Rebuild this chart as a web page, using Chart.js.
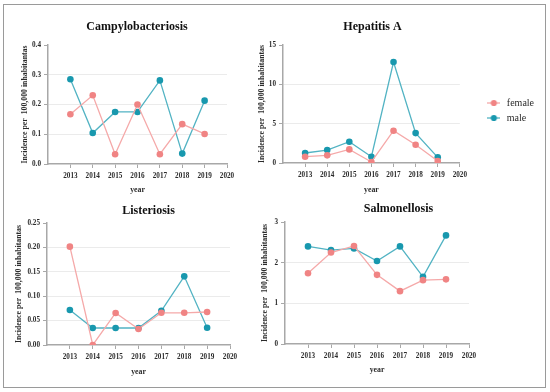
<!DOCTYPE html>
<html>
<head>
<meta charset="utf-8">
<script src="https://cdn.jsdelivr.net/npm/chart.js@4.4.1/dist/chart.umd.min.js"></script>
<style>
  html, body { margin: 0; padding: 0; background: #fff; }
  #page { position: relative; width: 550px; height: 392px; overflow: hidden; }
  #frame { position: absolute; left: 3px; top: 4px; width: 541px; height: 382px; border: 1.5px solid #9a9a9a; }
  canvas { position: absolute; }
</style>
</head>
<body>
<div id="page">
  <div id="frame"></div>
  <canvas id="campy" width="274" height="196" style="left:0px;top:0px"></canvas>
  <canvas id="hepa" width="349" height="196" style="left:198px;top:0px"></canvas>
  <canvas id="listeria" width="297" height="192" style="left:0px;top:196px"></canvas>
  <canvas id="salmo" width="297" height="192" style="left:250px;top:196px"></canvas>
</div>
<script>
// years on the x axis
const years = [2013, 2014, 2015, 2016, 2017, 2018, 2019];
const seriesNames = ['female', 'male'];

// incidence per 100,000 inhabitants
const campyFemale = [0.167, 0.231, 0.033, 0.200, 0.033, 0.134, 0.101];
const campyMale   = [0.285, 0.104, 0.175, 0.175, 0.281, 0.035, 0.213];

const hepaFemale = [0.80, 0.97, 1.73, 0.13, 4.10, 2.32, 0.25];
const hepaMale   = [1.27, 1.65, 2.70, 0.80, 12.84, 3.80, 0.72];

const listeriaFemale = [0.2015, 0.000, 0.0656, 0.0328, 0.066, 0.066, 0.0676];
const listeriaMale   = [0.0717, 0.0348, 0.0348, 0.0348, 0.070, 0.1407, 0.0355];

const salmoFemale = [1.74, 2.25, 2.41, 1.70, 1.30, 1.57, 1.59];
const salmoMale   = [2.40, 2.31, 2.35, 2.04, 2.40, 1.65, 2.67];

const FEMALE_PT = '#f08484';
const FEMALE_LN = '#f5a9a9';
const MALE_PT = '#1898ae';
const MALE_LN = '#52b3c3';
const AXIS = '#a8a8a8';
const TXT = '#2b2b2b';
const FONT = "'Liberation Serif', 'Times New Roman', serif";
const Y_TITLE_SIZE = 7.8;
const Y_TITLE_HALF = Y_TITLE_SIZE * 1.2 / 2;

// little line-with-dot marker for the legend
function legendMarker(color, lineColor) {
    const c = document.createElement('canvas');
    c.width = 13;
    c.height = 8;
    const g = c.getContext('2d');
    g.strokeStyle = lineColor;
    g.lineWidth = 1.3;
    g.beginPath();
    g.moveTo(0, 4);
    g.lineTo(13, 4);
    g.stroke();
    g.fillStyle = color;
    g.beginPath();
    g.arc(6.5, 4, 3.1, 0, Math.PI * 2);
    g.fill();
    return c;
}

function toPoints(values) {
    return years.map((y, i) => ({ x: y, y: values[i] }));
}

function makeChart(id, cfg) {
    const tickFont = { family: FONT, size: 7.2, weight: 'bold' };
    const titleFont = { family: FONT, size: Y_TITLE_SIZE, weight: 'bold' };
    const scales = {
        x: {
            type: 'linear',
            min: 2012,
            max: 2020,
            ticks: {
                stepSize: 1,
                autoSkip: false,
                maxRotation: 0,
                padding: 4,
                color: TXT,
                font: tickFont,
                callback: v => (v === 2012 ? '' : String(v))
            },
            grid: {
                drawOnChartArea: false,
                tickLength: 4,
                tickColor: c => (c.tick && c.tick.value === 2012 ? 'rgba(0,0,0,0)' : AXIS)
            },
            border: { color: AXIS, width: 1.5 },
            title: { display: true, text: 'year', color: TXT, font: titleFont, padding: 0 },
            afterFit: s => { s.height = cfg.xH; }
        },
        y: {
            min: 0,
            max: cfg.yMax,
            ticks: {
                stepSize: cfg.yStep,
                padding: 3,
                color: TXT,
                font: tickFont,
                callback: v => v.toFixed(cfg.dec)
            },
            grid: {
                tickLength: 4,
                tickColor: AXIS,
                color: c => {
                    const v = c.tick ? c.tick.value : 0;
                    if (Math.abs(v) < 1e-9 || Math.abs(v - cfg.yMax) < 1e-9) return 'rgba(0,0,0,0)';
                    return '#ebebeb';
                }
            },
            border: { color: AXIS, width: 1.5 },
            title: {
                display: true,
                text: 'Incidence per  100,000 inhabitantas',
                color: TXT,
                font: titleFont,
                padding: { top: cfg.yTitleX - cfg.pad.left - Y_TITLE_HALF, bottom: 0 }
            },
            afterFit: s => { s.width = cfg.yW; }
        },
        // empty spacer on the right of the plot
        spacer: {
            type: 'linear',
            position: 'right',
            display: true,
            ticks: { display: false },
            grid: { display: false },
            border: { display: false },
            afterFit: s => { s.width = cfg.spacerW; }
        }
    };

    return new Chart(document.getElementById(id), {
        type: 'line',
        data: {
            datasets: [
                {
                    label: seriesNames[0],
                    data: toPoints(cfg.female),
                    borderColor: FEMALE_LN,
                    backgroundColor: FEMALE_PT,
                    pointBackgroundColor: FEMALE_PT,
                    pointBorderColor: FEMALE_PT,
                    borderWidth: 1.3,
                    pointRadius: 3.3,
                    pointBorderWidth: 0,
                    tension: 0
                },
                {
                    label: seriesNames[1],
                    data: toPoints(cfg.male),
                    borderColor: MALE_LN,
                    backgroundColor: MALE_PT,
                    pointBackgroundColor: MALE_PT,
                    pointBorderColor: MALE_PT,
                    borderWidth: 1.3,
                    pointRadius: 3.3,
                    pointBorderWidth: 0,
                    tension: 0
                }
            ]
        },
        options: {
            responsive: false,
            animation: false,
            events: [],
            layout: { padding: cfg.pad },
            plugins: {
                title: {
                    display: true,
                    text: cfg.title,
                    color: '#111',
                    font: { family: FONT, size: 12, weight: 'bold' },
                    padding: cfg.titlePad
                },
                legend: {
                    display: !!cfg.legend,
                    position: 'right',
                    align: 'center',
                    title: { display: true, text: ' ', font: { size: 10 }, padding: { top: 0, bottom: 14.5 } },
                    labels: {
                        usePointStyle: true,
                        pointStyleWidth: 16,
                        padding: 5,
                        color: TXT,
                        font: { family: FONT, size: 10 },
                        generateLabels: chart => chart.data.datasets.map((ds, i) => ({
                            text: ds.label,
                            pointStyle: legendMarker(ds.pointBackgroundColor, ds.borderColor),
                            fillStyle: ds.pointBackgroundColor,
                            strokeStyle: ds.borderColor,
                            lineWidth: 0,
                            fontColor: TXT,
                            datasetIndex: i
                        }))
                    }
                },
                tooltip: { enabled: false }
            },
            scales: scales
        }
    });
}

makeChart('campy', {
    title: 'Campylobacteriosis',
    female: campyFemale, male: campyMale,
    yMax: 0.4, yStep: 0.1, dec: 1,
    yW: 48, xH: 30.5, spacerW: 47, yTitleX: 25,
    pad: { left: 0, right: 0, top: 0, bottom: 1.5 },
    titlePad: { top: 19.5, bottom: 11.1 }
});

makeChart('hepa', {
    title: 'Hepatitis A',
    female: hepaFemale, male: hepaMale,
    yMax: 15, yStep: 5, dec: 0,
    yW: 73, xH: 31.5, spacerW: 21, yTitleX: 64, legend: true,
    pad: { left: 12, right: 12, top: 0, bottom: 1.5 },
    titlePad: { top: 19.5, bottom: 11.1 }
});

makeChart('listeria', {
    title: 'Listeriosis',
    female: listeriaFemale, male: listeriaMale,
    yMax: 0.25, yStep: 0.05, dec: 2,
    yW: 47, xH: 31.5, spacerW: 67, yTitleX: 19,
    pad: { left: 0, right: 0, top: 0, bottom: 11.5 },
    titlePad: { top: 7.5, bottom: 5.1 }
});

makeChart('salmo', {
    title: 'Salmonellosis',
    female: salmoFemale, male: salmoMale,
    yMax: 3, yStep: 1, dec: 0,
    yW: 35, xH: 30.5, spacerW: 78, yTitleX: 15,
    pad: { left: 0, right: 0, top: 0, bottom: 13.5 },
    titlePad: { top: 5.5, bottom: 6.1 }
});
</script>
</body>
</html>
